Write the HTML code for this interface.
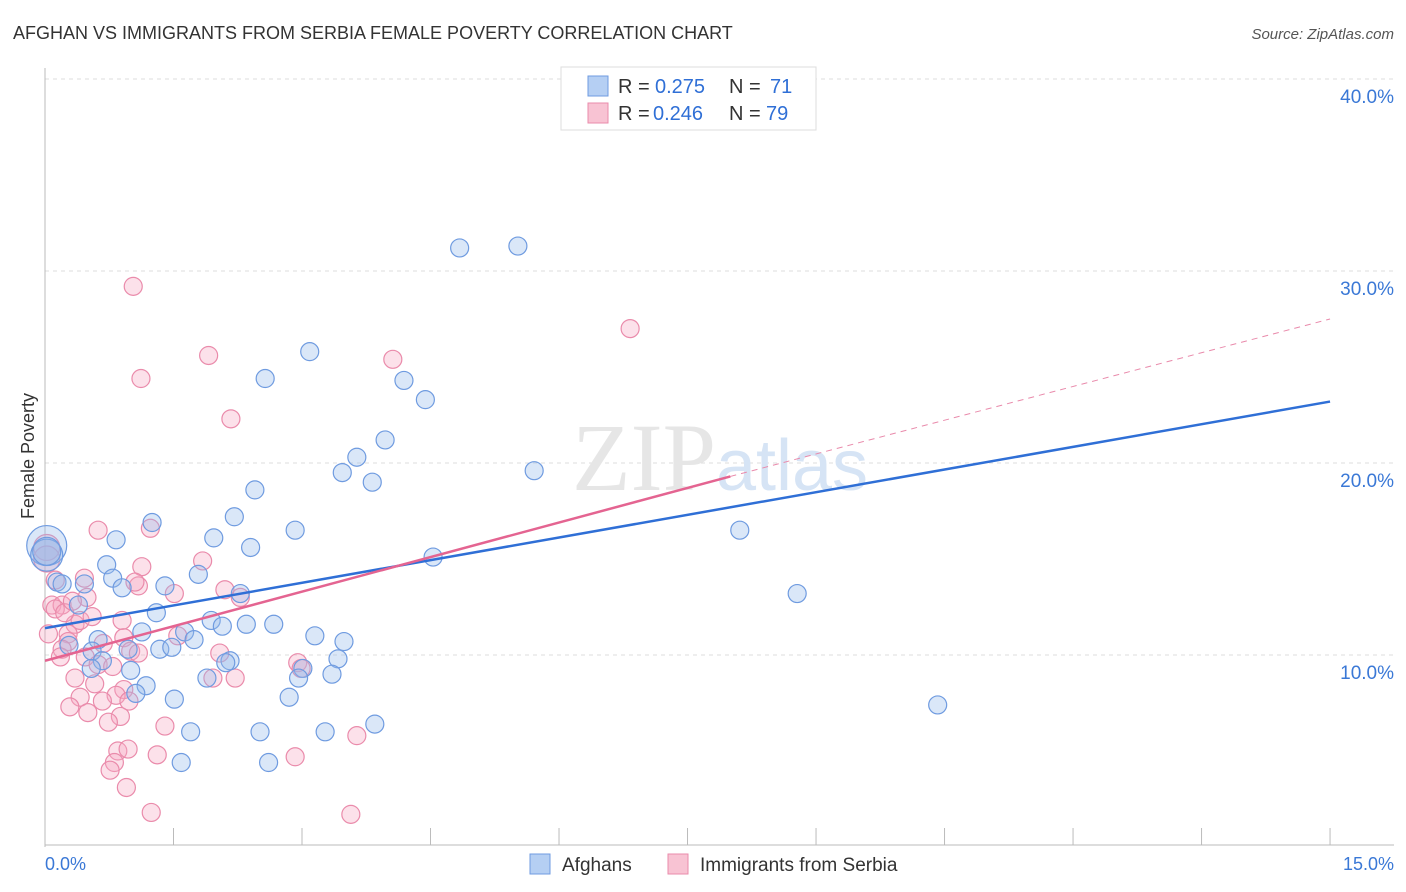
<!DOCTYPE html>
<html><head><meta charset="utf-8"><style>
body{margin:0;background:#fff;font-family:"Liberation Sans",sans-serif}
svg{display:block}
</style></head><body>
<svg id="chart" width="1406" height="892">
<text x="13" y="39" font-size="18" fill="#333">AFGHAN VS IMMIGRANTS FROM SERBIA FEMALE POVERTY CORRELATION CHART</text>
<text x="1394" y="39" font-size="15" fill="#555" font-style="italic" text-anchor="end">Source: ZipAtlas.com</text>
<text x="34" y="456" font-size="18" fill="#333" transform="rotate(-90 34 456)" text-anchor="middle">Female Poverty</text>
<g id="grid"></g>
<text x="720" y="490" font-size="96" fill="#e6e6e6" text-anchor="middle" font-family="Liberation Serif,serif">ZIP<tspan fill="#d6e4f5" font-family="Liberation Sans,sans-serif" font-size="72">atlas</tspan></text>
<g id="pts"></g>
<g id="lines"></g>
<g>
<rect x="561" y="67" width="255" height="63" fill="#fff" stroke="#ddd"/>
<rect x="588" y="76" width="20" height="20" fill="#b5cff3" stroke="#6f9be0"/>
<rect x="588" y="103" width="20" height="20" fill="#f8c3d3" stroke="#ea8bab"/>
<text x="618" y="93" font-size="20" fill="#333">R = </text><text x="655" y="93" font-size="20" fill="#2f6fd6">0.275</text>
<text x="729" y="93" font-size="20" fill="#333">N = </text><text x="770" y="93" font-size="20" fill="#2f6fd6">71</text>
<text x="618" y="120" font-size="20" fill="#333">R = </text><text x="653" y="120" font-size="20" fill="#2f6fd6">0.246</text>
<text x="729" y="120" font-size="20" fill="#333">N = </text><text x="766" y="120" font-size="20" fill="#2f6fd6">79</text>
</g>
<g>
<rect x="530" y="854" width="20" height="20" fill="#b5cff3" stroke="#6f9be0"/>
<text x="562" y="871" font-size="19" fill="#333">Afghans</text>
<rect x="668" y="854" width="20" height="20" fill="#f8c3d3" stroke="#ea8bab"/>
<text x="700" y="871" font-size="19" fill="#333">Immigrants from Serbia</text>
</g>
<text x="45" y="870" font-size="18" fill="#3a78d6">0.0%</text>
<text x="1394" y="870" font-size="18" fill="#3a78d6" text-anchor="end">15.0%</text>
</svg>
<script>
const yTicks=[10,20,30,40];
const xTickCount=10;
const afghanX=[4.84,5.52,2.57,3.09,4.19,4.44,3.97,3.64,3.47,3.82,5.71,2.45,2.21,1.25,1.97,2.92,0.83,2.40,4.53,8.11,8.78,10.42,0.72,0.79,0.46,0.14,0.20,0.90,1.40,1.79,2.28,0.39,1.30,1.94,2.07,2.35,2.67,1.63,1.13,1.74,3.15,3.49,0.62,0.28,0.55,0.97,1.34,1.48,0.67,0.54,1.00,2.16,2.11,3.42,3.01,2.96,3.35,1.89,1.18,1.06,1.51,2.85,3.85,1.70,2.51,3.27,1.59,2.61,0.02,0.02,0.02];
const afghanY=[31.2,31.3,24.4,25.8,24.3,23.3,21.2,20.3,19.5,19.0,19.6,18.6,17.2,16.9,16.1,16.5,16.0,15.6,15.1,16.5,13.2,7.4,14.7,14.0,13.7,13.8,13.7,13.5,13.6,14.2,13.2,12.6,12.2,11.8,11.5,11.6,11.6,11.2,11.2,10.8,11.0,10.7,10.8,10.5,10.2,10.3,10.3,10.4,9.7,9.3,9.2,9.7,9.6,9.8,9.3,8.8,9.0,8.8,8.4,8.0,7.7,7.8,6.4,6.0,6.0,6.0,4.4,4.4,15.7,15.2,15.4];
const afghanR=[9,9,9,9,9,9,9,9,9,9,9,9,9,9,9,9,9,9,9,9,9,9,9,9,9,9,9,9,9,9,9,9,9,9,9,9,9,9,9,9,9,9,9,9,9,9,9,9,9,9,9,9,9,9,9,9,9,9,9,9,9,9,9,9,9,9,9,9,20,16,14];
const serbiaX=[1.03,1.12,1.91,4.06,6.83,2.17,0.62,1.23,1.84,1.13,0.46,0.12,1.09,1.05,1.51,2.10,2.28,0.49,0.08,0.20,0.35,0.41,0.90,0.04,0.27,0.68,0.92,1.55,0.27,0.20,1.00,1.09,2.04,0.18,0.47,0.62,0.79,2.95,2.99,0.35,0.58,0.92,1.96,2.22,0.41,0.83,0.67,0.98,0.29,0.50,0.88,0.74,1.40,3.64,0.85,0.97,1.31,0.81,0.76,2.92,0.95,1.24,3.57,0.02,0.02,0.12,0.23,0.32,0.55];
const serbiaY=[29.2,24.4,25.6,25.4,27.0,22.3,16.5,16.6,14.9,14.6,14.0,13.9,13.6,13.8,13.2,13.4,13.0,13.0,12.6,12.6,11.6,11.8,11.8,11.1,11.1,10.6,10.9,11.0,10.7,10.3,10.2,10.1,10.1,9.9,9.9,9.5,9.4,9.6,9.3,8.8,8.5,8.2,8.8,8.8,7.8,7.9,7.6,7.6,7.3,7.0,6.8,6.5,6.3,5.8,5.0,5.1,4.8,4.4,4.0,4.7,3.1,1.8,1.7,15.6,15.0,12.4,12.2,12.8,12.0];
const blueLine=[[0,11.4],[15,23.2]];
const pinkLine=[[0,9.7],[8,19.3],[15,27.5]];
const X=v=>45+v*85.67, Y=v=>847-v*19.2;
const NS='http://www.w3.org/2000/svg';
function mk(t,a,p){const e=document.createElementNS(NS,t);for(const k in a)e.setAttribute(k,a[k]);p.appendChild(e);return e;}
const grid=document.getElementById('grid');
yTicks.forEach(t=>{
 const l=mk('line',{x1:45,x2:1394,y1:Y(t),y2:Y(t),stroke:'#ddd','stroke-dasharray':'4,4'},grid);
 
 
 const tx=mk('text',{x:1394,y:Y(t)+24,'font-size':19,fill:'#3a78d6','text-anchor':'end'},grid);
 tx.textContent=t.toFixed(1)+'%';
 
 
});
const ax=mk('line',{x1:45,x2:45,y1:68,y2:847,stroke:'#bbb'},grid);


const bx=mk('line',{x1:45,x2:1394,y1:845,y2:845,stroke:'#bbb'},grid);


for(let i=1;i<=xTickCount;i++){
 const t=mk('line',{x1:X(i*1.5),x2:X(i*1.5),y1:828,y2:845,stroke:'#bbb'},grid);
 
 
}
const pts=document.getElementById('pts');
serbiaX.forEach((x,i)=>{
 const c=mk('circle',{cx:X(x),cy:Y(serbiaY[i]),r:i>=63&&i<65?13:9,fill:'rgba(245,170,195,0.35)',stroke:'#ea8bab','stroke-width':1.2},pts);
 
 
});
afghanX.forEach((x,i)=>{
 const c=mk('circle',{cx:X(x),cy:Y(afghanY[i]),r:afghanR[i],fill:'rgba(150,185,235,0.35)',stroke:'#6f9be0','stroke-width':1.2},pts);
 
 
});
const lines=document.getElementById('lines');
const bl=mk('line',{x1:X(blueLine[0][0]),y1:Y(blueLine[0][1]),x2:X(blueLine[1][0]),y2:Y(blueLine[1][1]),stroke:'#2f6fd6','stroke-width':2.5},lines);


const pl=mk('line',{x1:X(pinkLine[0][0]),y1:Y(pinkLine[0][1]),x2:X(pinkLine[1][0]),y2:Y(pinkLine[1][1]),stroke:'#e46491','stroke-width':2.5},lines);


const pd=mk('line',{x1:X(pinkLine[1][0]),y1:Y(pinkLine[1][1]),x2:X(pinkLine[2][0]),y2:Y(pinkLine[2][1]),stroke:'#e98aab','stroke-width':1,'stroke-dasharray':'6,5'},lines);


</script>
</body></html>
